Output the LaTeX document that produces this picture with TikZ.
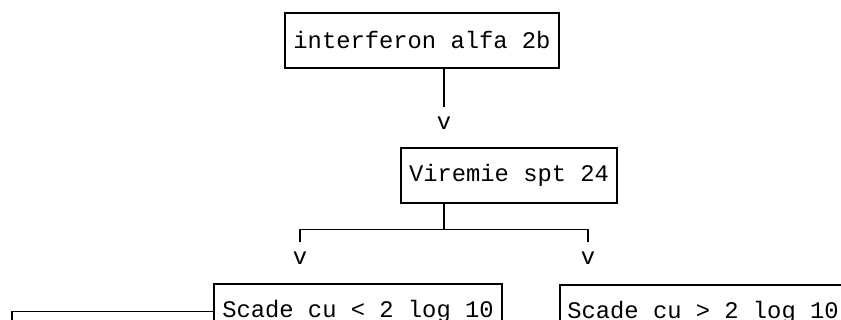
\documentclass[tikz,border=0pt]{standalone}
\usepackage{fontspec}
\setmonofont{Liberation Mono}
\usetikzlibrary{positioning}
\usetikzlibrary{calc}

\begin{document}
\begin{tikzpicture}[x=1pt,y=1pt,
		box/.style={draw, line width=1.5pt, inner sep=0pt, minimum height=55pt, font=\ttfamily\fontsize{23.8}{28}\selectfont},
		tip/.style={inner sep=0pt, font=\ttfamily\fontsize{23.8}{28}\selectfont},
		conn/.style={line width=1.5pt}]
		\useasboundingbox (0,0) rectangle (841,320);
		\clip (0,0) rectangle (841,320);
		%\node[box] (ifn) {interferon alfa 2b};
		\node[box, minimum width=274pt] (ifn) at (422,279.5) {interferon alfa 2b};
		\node[tip] (v1) at (444,197) {v};
		\node[box, minimum width=216pt] (vir) at (509,144.5) {Viremie spt 24};
		\node[tip] (v2) at (300,62) {v};
		\node[tip] (v3) at (588,62) {v};
		\node[box, minimum width=288pt] (scadeMic) at (358,8.5) {Scade cu < 2 log 10};
		\node[box, minimum width=286pt] (scadeMare) at (703,7.5) {Scade cu > 2 log 10};
		\coordinate (fork) at ([yshift=-26pt]vir.south -| v1);
		\coordinate (jos) at (12,-10);
		%\path[conn] (ifn) edge (v1);
		\draw[conn] (ifn.south -| v1) -- ([yshift=10pt]v1.north);
		\draw[conn] (vir.south -| v1) -- (fork);
		\draw[conn] ([yshift=10pt]v2.north) |- (fork) -| ([yshift=10pt]v3.north);
		\draw[conn] (scadeMic.west) -| (jos);
\end{tikzpicture}
\end{document}
